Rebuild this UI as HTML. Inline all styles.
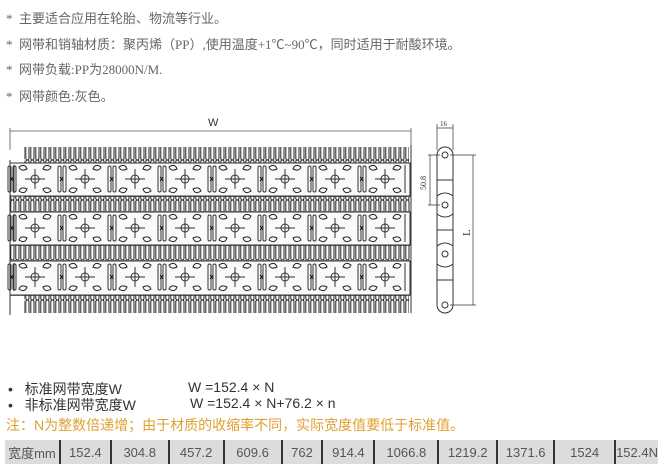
<!DOCTYPE html>
<html><head><meta charset="utf-8"><style>
body{margin:0;width:660px;height:474px;background:#fff;position:relative;overflow:hidden;font-family:"Liberation Sans","Noto Sans CJK SC",sans-serif;}
.t{position:absolute;left:6px;font-family:"Liberation Serif","Noto Sans CJK SC",serif;font-size:13px;color:#666;white-space:nowrap;}
.b{position:absolute;font-size:14px;color:#333;white-space:nowrap;}
table{position:absolute;left:5px;top:440px;width:653px;height:24px;border-collapse:collapse;background:#dcdcdc;}
td{font-size:13px;color:#555;text-align:center;padding:0;border-left:2px solid #333;}
td:first-child{border-left:none;}
</style></head><body>
<div class="t" style="top:8px">*&nbsp; 主要适合应用在轮胎、物流等行业。</div>
<div class="t" style="top:34px">*&nbsp; 网带和销轴材质：聚丙烯（PP）,使用温度+1℃~90℃，同时适用于耐酸环境。</div>
<div class="t" style="top:59px">*&nbsp; 网带负载:PP为28000N/M.</div>
<div class="t" style="top:86px">*&nbsp; 网带颜色:灰色。</div>

<svg width="660" height="474" style="position:absolute;left:0;top:0" xmlns="http://www.w3.org/2000/svg">
<defs>
<pattern id="fin" x="10" y="0" width="5" height="20" patternUnits="userSpaceOnUse">
<rect x="0.8" y="0" width="3.2" height="20" rx="1.6" fill="none" stroke="#222" stroke-width="1"/>
</pattern>
<g id="mod" fill="none" stroke="#333" stroke-width="1">
<circle r="4"/><path d="M-10 0H10M0-10V10"/>
<path d="M-16-12q6-4 8 2q-6 3-8-2zM16-12q-6-4-8 2q6 3 8-2zM-16 12q6 4 8-2q-6-3-8 2zM16 12q-6 4-8-2q6-3 8 2z" stroke="#222"/>
<rect x="-22" y="-13" width="3" height="26" rx="1.5"/><rect x="-27" y="-13" width="3" height="26" rx="1.5"/>
<path d="M-25 -2l3 4M-25 2l3-4" stroke="#111"/>
</g>
</defs>
<path d="M10 128V150M411 128V150M10 131H411" stroke="#555" fill="none" stroke-width="0.8"/>
<text x="208" y="126" font-family="Liberation Sans" font-size="11" fill="#333">W</text>
<g>
<rect x="24" y="147" width="385" height="17" fill="url(#fin)"/>
<rect x="10" y="196" width="400" height="15" fill="url(#fin)"/>
<rect x="10" y="245" width="400" height="15" fill="url(#fin)"/>
<rect x="24" y="295" width="385" height="18" fill="url(#fin)"/>
<path d="M24 196H410M10 212H410M10 245H410M10 261H410M10 295H410" stroke="#111" stroke-width="1.5"/>
<rect x="10" y="163" width="400" height="33" fill="#fafafa" stroke="#333"/>
<rect x="10" y="212" width="400" height="33" fill="#fafafa" stroke="#333"/>
<rect x="10" y="261" width="400" height="34" fill="#fafafa" stroke="#333"/>
<g id="r1">
<use href="#mod" x="35" y="179"/><use href="#mod" x="85" y="179"/><use href="#mod" x="135" y="179"/><use href="#mod" x="185" y="179"/>
<use href="#mod" x="235" y="179"/><use href="#mod" x="285" y="179"/><use href="#mod" x="335" y="179"/><use href="#mod" x="385" y="179"/>
</g>
<use href="#r1" y="49"/><use href="#r1" y="98"/>
<path d="M405 165v28M405 214v28M405 263v28M14 165v28M14 214v28M14 263v28" stroke="#333"/>
<path d="M10 160V315M411 145V313" stroke="#333"/>
</g>
<g fill="none" stroke="#333" stroke-width="1">
<path d="M437 124V150M453 124V150M437 128H453" stroke-width="0.7"/>
<text x="440" y="126" font-size="7" fill="#333" stroke="none" font-family="Liberation Serif">16</text>
<rect x="437" y="147" width="16" height="166" rx="8"/>
<path d="M437 180H453M437 230H453M437 280H453" />
<path d="M437 196q8 -6 16 0M437 214q8 6 16 0M437 246q8-6 16 0M437 264q8 6 16 0"/>
<circle cx="445" cy="155" r="3"/><circle cx="445" cy="205" r="3"/><circle cx="445" cy="254" r="3"/><circle cx="445" cy="305" r="3"/>
<path d="M428 155H440M428 205H440M430 155V205M450 155H476M450 305H476M473 155V305" stroke-width="0.7"/>
<text x="0" y="0" font-size="8" fill="#333" stroke="none" font-family="Liberation Serif" transform="translate(426 190) rotate(-90)">50.8</text>
<text x="0" y="0" font-size="11" fill="#333" stroke="none" font-family="Liberation Serif" transform="translate(470 236) rotate(-90)">L</text>
</g>
</svg>

<div class="b" style="left:8px;top:379px">•&nbsp;&nbsp; 标准网带宽度W</div>
<div class="b" style="left:188px;top:379px">W =152.4 × N</div>
<div class="b" style="left:8px;top:395px">•&nbsp;&nbsp; 非标准网带宽度W</div>
<div class="b" style="left:190px;top:395px">W =152.4 × N+76.2 × n</div>
<div class="b" style="left:6px;top:415px;color:#e0a030">注：N为整数倍递增；由于材质的收缩率不同，实际宽度值要低于标准值。</div>
<table><tr>
<td style="width:54px">宽度mm</td><td style="width:49px">152.4</td><td style="width:56px">304.8</td><td style="width:53px">457.2</td><td style="width:56px">609.6</td><td style="width:39px">762</td><td style="width:50px">914.4</td><td style="width:62px">1066.8</td><td style="width:57px">1219.2</td><td style="width:55px">1371.6</td><td style="width:59px">1524</td><td>152.4N</td>
</tr></table>
</body></html>
